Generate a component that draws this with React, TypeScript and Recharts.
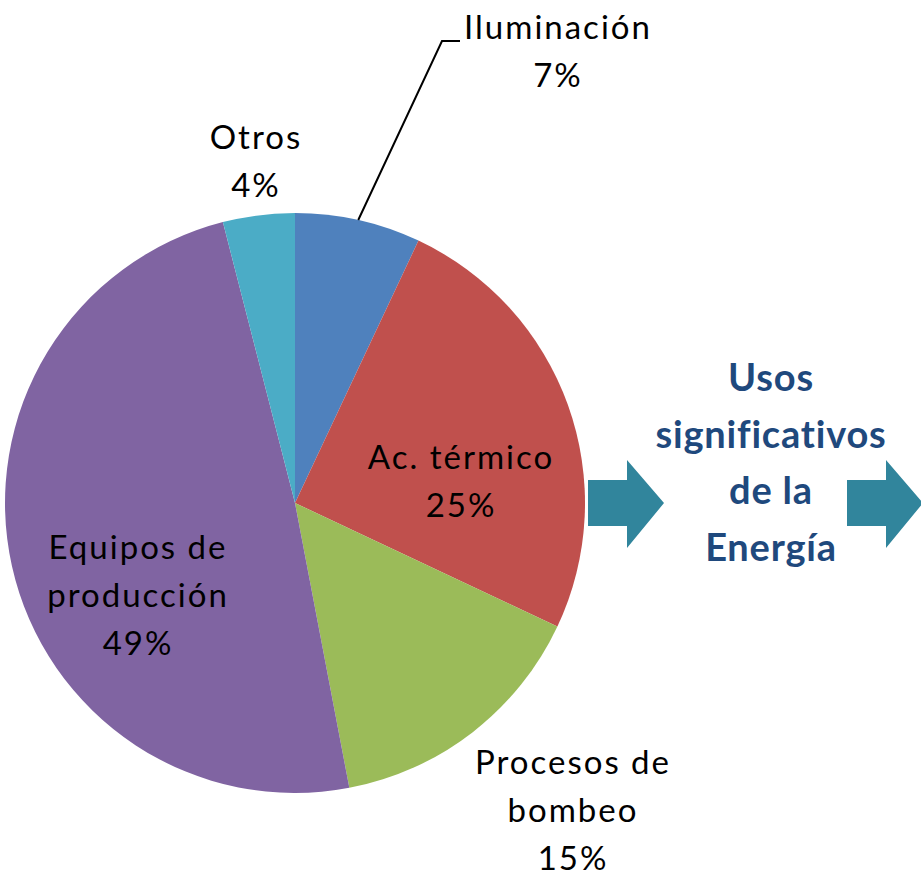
import React from 'react';
import { PieChart, Pie, Cell } from 'recharts';

const names = ['Iluminación', 'Ac. térmico', 'Procesos de bombeo', 'Equipos de producción', 'Otros'];
const labelLines = [['Iluminación'], ['Ac. térmico'], ['Procesos de', 'bombeo'], ['Equipos de', 'producción'], ['Otros']];
const values = [7, 25, 15, 49, 4];
const colors = ['#4F81BD', '#C0504D', '#9BBB59', '#8064A2', '#4BACC6'];
const titleLines = ['Usos', 'significativos', 'de la', 'Energía'];

// label centre offsets from pie centre (x, y of first line)
const labelPos = [
  { dx: 262, dy: -475 },
  { dx: 165, dy: -45 },
  { dx: 277, dy: 260 },
  { dx: -158, dy: 45 },
  { dx: -40, dy: -365 },
];

const data = names.map((name, i) => ({ name, value: values[i] }));
const FONT = 'Lato, "Open Sans", sans-serif';

const renderLabel = (props: any) => {
  const { cx, cy, midAngle, outerRadius, index, value } = props;
  const pos = labelPos[index];
  const x = cx + pos.dx + 1;
  const y = cy + pos.dy;
  const lines = [...labelLines[index], `${value}%`];
  const RAD = Math.PI / 180;
  let leader = null;
  if (index === 0) {
    const ex = cx + outerRadius * Math.cos(midAngle * RAD);
    const ey = cy - outerRadius * Math.sin(midAngle * RAD);
    leader = (
      <polyline
        points={`${ex},${ey} ${x - 116},${y + 13} ${x - 98},${y + 13}`}
        fill="none"
        stroke="#000"
        strokeWidth={2}
      />
    );
  }
  return (
    <g>
      {leader}
      <text x={x} y={y} textAnchor="middle" fontFamily={FONT} fontSize={33} letterSpacing={2} fill="#000">
        {lines.map((l, i) => (
          <tspan key={i} x={x} dy={i === 0 ? 11 : 48}>
            {l}
          </tspan>
        ))}
      </text>
    </g>
  );
};

const Arrow = ({ x }: { x: number }) => (
  <polygon
    points={`${x},480 ${x + 39},480 ${x + 39},460 ${x + 76},503 ${x + 39},548 ${x + 39},526 ${x},526`}
    fill="#31859C"
  />
);

export default function App() {
  return (
    <div style={{ position: 'absolute', left: 0, top: 0, width: 921, height: 874, background: '#fff' }}>
      <PieChart width={921} height={874} margin={{ top: 0, right: 0, bottom: 0, left: 0 }}>
        <Pie
          data={data}
          dataKey="value"
          nameKey="name"
          cx={295}
          cy={503}
          outerRadius={290}
          startAngle={90}
          endAngle={-270}
          stroke="none"
          label={renderLabel}
          labelLine={false}
          isAnimationActive={false}
        >
          {data.map((d, i) => (
            <Cell key={d.name} fill={colors[i]} />
          ))}
        </Pie>
      </PieChart>
      <svg width={921} height={874} style={{ position: 'absolute', left: 0, top: 0, pointerEvents: 'none' }}>
        <Arrow x={588} />
        <Arrow x={847} />
        <text x={771} y={378} textAnchor="middle" fontFamily={FONT} fontWeight="bold" fontSize={38} letterSpacing={0.8} fill="#1F497D">
          {titleLines.map((l, i) => (
            <tspan key={i} x={771} dy={i === 0 ? 13 : i === 2 ? 56 : 57}>
              {l}
            </tspan>
          ))}
        </text>
      </svg>
    </div>
  );
}
